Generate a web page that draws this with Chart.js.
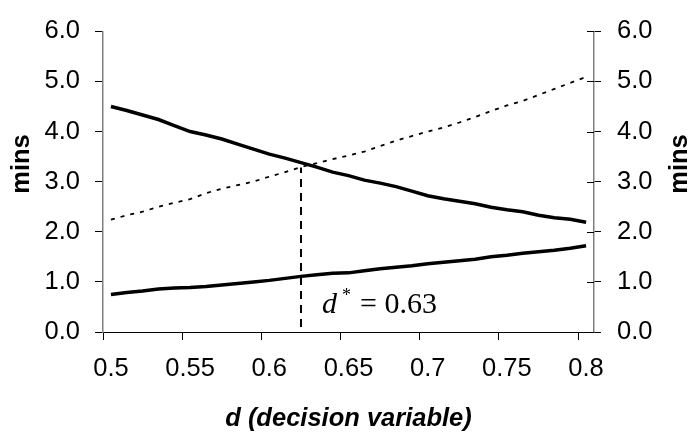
<!DOCTYPE html>
<html>
<head>
<meta charset="utf-8">
<script src="https://cdn.jsdelivr.net/npm/chart.js@4.4.1/dist/chart.umd.min.js"></script>
<style>
  html, body { margin: 0; padding: 0; background: #fff; }
  #wrap { width: 693px; height: 432px; }
</style>
</head>
<body>
<div id="wrap"><canvas id="chart" width="693" height="432"></canvas></div>
<script>
// decision variable d, one category every 0.01
const dValues = [0.50, 0.51, 0.52, 0.53, 0.54, 0.55, 0.56, 0.57, 0.58, 0.59,
                 0.60, 0.61, 0.62, 0.63, 0.64, 0.65, 0.66, 0.67, 0.68, 0.69,
                 0.70, 0.71, 0.72, 0.73, 0.74, 0.75, 0.76, 0.77, 0.78, 0.79, 0.80];

// falling solid curve
const upperMins = [4.50, 4.42, 4.33, 4.24, 4.12, 4.00, 3.93, 3.85, 3.75, 3.65,
                   3.55, 3.47, 3.38, 3.29, 3.19, 3.12, 3.03, 2.97, 2.90, 2.81,
                   2.72, 2.66, 2.61, 2.56, 2.49, 2.44, 2.40, 2.33, 2.28, 2.25, 2.19];

// rising dotted curve
const dottedMins = [2.24, 2.33, 2.40, 2.50, 2.58, 2.65, 2.77, 2.86, 2.93, 3.00,
                    3.10, 3.19, 3.29, 3.37, 3.45, 3.52, 3.60, 3.71, 3.82, 3.91,
                    4.00, 4.08, 4.18, 4.29, 4.41, 4.52, 4.61, 4.73, 4.85, 4.97, 5.09];

// rising solid curve (bottom)
const lowerMins = [0.75, 0.79, 0.82, 0.86, 0.88, 0.89, 0.91, 0.94, 0.97, 1.00,
                   1.03, 1.07, 1.11, 1.14, 1.17, 1.18, 1.22, 1.26, 1.29, 1.32,
                   1.36, 1.39, 1.42, 1.45, 1.50, 1.53, 1.57, 1.60, 1.63, 1.67, 1.72];

// vertical dashed marker at the optimum
const optimumCategory = 0.62;
const optimumSpan = [0.1, 3.28];
const optimumText = '= 0.63';

const labels = dValues.map(String);
const FONT = '"Liberation Sans", Arial, sans-serif';

// extra drawing: inner half of right-axis ticks, y titles, d* label
const extras = {
  id: 'extras',
  afterDraw(chart) {
    const { ctx, chartArea, scales } = chart;
    const y2 = scales.y2;
    ctx.save();
    ctx.strokeStyle = '#000';
    ctx.lineWidth = 1;
    y2.ticks.forEach(t => {
      const py = Math.round(y2.getPixelForValue(t.value)) + 0.5;
      ctx.beginPath();
      ctx.moveTo(chartArea.right - 7, py);
      ctx.lineTo(chartArea.right, py);
      ctx.stroke();
    });

    ctx.fillStyle = '#000';
    ctx.font = 'bold 25.5px ' + FONT;
    ctx.textAlign = 'center';
    ctx.textBaseline = 'middle';
    [22, 680].forEach(x => {
      ctx.save();
      ctx.translate(x, 164);
      ctx.rotate(-Math.PI / 2);
      ctx.fillText('mins', 0, 0);
      ctx.restore();
    });

    // d* = 0.63
    const px = scales.x.getPixelForValue(labels.indexOf(String(optimumCategory)));
    const base = 313;
    ctx.textAlign = 'left';
    ctx.textBaseline = 'alphabetic';
    ctx.font = 'italic 30px "Liberation Serif", serif';
    ctx.fillText('d', px + 21, base);
    ctx.font = '18px "Liberation Serif", serif';
    ctx.fillText('*', px + 41, base - 12);
    ctx.font = '30px "Liberation Serif", serif';
    ctx.fillText(optimumText, px + 59, base);
    ctx.restore();
  }
};

new Chart(document.getElementById('chart'), {
  type: 'line',
  data: {
    labels: labels,
    datasets: [
      {
        label: 'upper',
        data: upperMins,
        borderColor: '#000',
        borderWidth: 3.5,
        pointRadius: 0,
        tension: 0,
      },
      {
        label: 'dotted',
        data: dottedMins,
        borderColor: '#000',
        borderWidth: 1.8,
        borderDash: [4, 6],
        pointRadius: 0,
        tension: 0,
      },
      {
        label: 'lower',
        data: lowerMins,
        borderColor: '#000',
        borderWidth: 3.5,
        pointRadius: 0,
        tension: 0,
      },
      {
        label: 'optimum',
        data: [
          { x: String(optimumCategory), y: optimumSpan[0] },
          { x: String(optimumCategory), y: optimumSpan[1] },
        ],
        borderColor: '#000',
        borderWidth: 2,
        borderDash: [8, 6],
        pointRadius: 0,
      },
    ],
  },
  options: {
    responsive: false,
    animation: false,
    layout: { padding: { top: 19, left: 0, right: 0, bottom: 0 } },
    plugins: {
      legend: { display: false },
      tooltip: { enabled: false },
    },
    scales: {
      x: {
        type: 'category',
        offset: true,
        afterFit: s => { s.height = 100; },
        grid: {
          offset: true,
          drawOnChartArea: false,
          tickLength: 8,
          color: ctx => (ctx.index % 5 === 0 ? '#000' : 'rgba(0,0,0,0)'),
        },
        border: { color: '#000', width: 1 },
        ticks: {
          autoSkip: false,
          maxRotation: 0,
          padding: 14,
          color: '#000',
          font: { family: FONT, size: 25.5 },
          callback: function (value, index) {
            return index % 5 === 0 ? this.getLabelForValue(value) : '';
          },
        },
        title: {
          display: true,
          text: 'd (decision variable)',
          color: '#000',
          font: { family: FONT, size: 25.5, weight: 'bold', style: 'italic', lineHeight: 1 },
          padding: { top: 0, bottom: 0 },
        },
      },
      y: {
        position: 'left',
        min: 0,
        max: 6,
        afterFit: s => { s.width = 103; },
        grid: { drawOnChartArea: false, tickLength: 8, color: '#000' },
        border: { color: '#808080', width: 1.5 },
        ticks: {
          stepSize: 1,
          padding: 15,
          color: '#000',
          font: { family: FONT, size: 25.5 },
          callback: v => v.toFixed(1),
        },
      },
      y2: {
        position: 'right',
        min: 0,
        max: 6,
        afterFit: s => { s.width = 99; },
        grid: { drawOnChartArea: false, tickLength: 7, color: '#000' },
        border: { color: '#808080', width: 1.5 },
        ticks: {
          stepSize: 1,
          padding: 16,
          color: '#000',
          font: { family: FONT, size: 25.5 },
          callback: v => v.toFixed(1),
        },
      },
    },
  },
  plugins: [extras],
});
</script>
</body>
</html>
